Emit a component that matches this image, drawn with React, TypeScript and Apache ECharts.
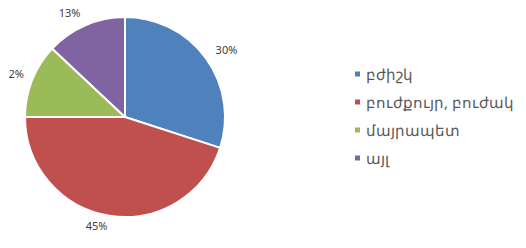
import React, { useEffect, useRef } from "react";
import * as echarts from "echarts";

const categories = ["բժիշկ", "բուժքույր, բուժակ", "մայրապետ", "այլ"];
const values = [30, 45, 12, 13];
const colors = ["#4F81BD", "#C0504D", "#9BBB59", "#8064A2"];

export default function App() {
  const ref = useRef<HTMLDivElement>(null);
  useEffect(() => {
    if (!ref.current) return;
    const chart = echarts.init(ref.current, undefined, { renderer: "svg" });
    chart.setOption({
      animation: false,
      color: colors,
      legend: {
        orient: "vertical",
        left: 353,
        top: 66,
        padding: 0,
        icon: "rect",
        itemWidth: 7,
        itemHeight: 7,
        itemGap: 12,
        textStyle: {
          fontFamily: "Noto Sans",
          fontSize: 15,
          lineHeight: 16,
          color: "#595959",
        },
        data: categories,
      },
      series: [
        {
          type: "pie",
          left: -50,
          top: -50,
          right: 0,
          bottom: -50,
          center: [175, 167],
          radius: 100,
          startAngle: 90,
          clockwise: true,
          avoidLabelOverlap: false,
          itemStyle: { borderColor: "#ffffff", borderWidth: 2 },
          label: {
            show: true,
            position: "outside",
            formatter: "{c}%",
            fontFamily: "Noto Sans",
            fontSize: 11,
            color: "#404040",
            distanceToLabelLine: 0,
            overflow: "none",
          },
          labelLine: { show: false, length: 12, length2: 0 },
          labelLayout: (p: any) => (p.dataIndex === 2 ? { dx: 3, dy: -2 } : { dy: -2 }),
          emphasis: { disabled: true },
          data: categories.map((name, i) => ({ name, value: values[i] })),
        },
      ],
    });
    return () => chart.dispose();
  }, []);
  return <div ref={ref} style={{ width: 526, height: 248, margin: -8 }} />;
}
